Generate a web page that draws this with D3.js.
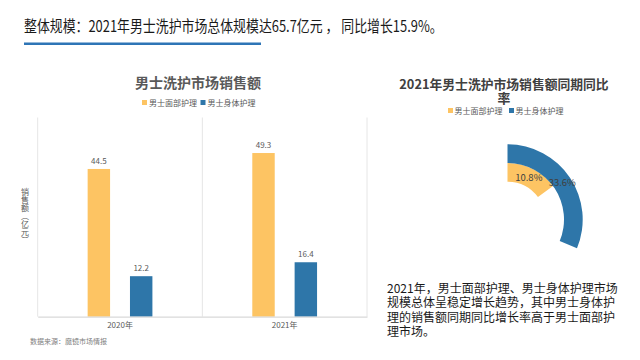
<!DOCTYPE html>
<html>
<head>
<meta charset="utf-8">
<script src="https://cdn.jsdelivr.net/npm/d3@7"></script>
<style>
  html, body { margin: 0; padding: 0; background: #ffffff; }
  svg { display: block; font-family: "Noto Sans CJK SC", "Noto Sans", sans-serif; }
</style>
</head>
<body>
<svg id="chart" width="640" height="360"></svg>
<script>
// ---------- data ----------
const headline = "整体规模：2021年男士洗护市场总体规模达65.7亿元 ， 同比增长15.9%。";
const barTitle = "男士洗护市场销售额";
const categories = ["2020年", "2021年"];
const seriesNames = ["男士面部护理", "男士身体护理"];
const faceValues = [44.5, 49.3];
const bodyValues = [12.2, 16.4];
const yAxisTitle = "销售额（亿元）";
const sourceNote = "数据来源：魔镜市场情报";
const ringTitleLines = ["2021年男士洗护市场销售额同期同比", "率"];
const ringValues = [10.8, 33.6]; // %, same order as seriesNames
const paragraphLines = [
  "2021年，男士面部护理、男士身体护理市场",
  "规模总体呈稳定增长趋势，其中男士身体护",
  "理的销售额同期同比增长率高于男士面部护",
  "理市场。"
];

// ---------- style ----------
const colors = ["#fdc463", "#2e76a9"];
const svg = d3.select("#chart");

// headline (horizontally condensed like the reference)
const hl = svg.append("text").attr("x", 0).attr("y", 0)
  .attr("font-size", 15.5).attr("fill", "#1a1a1a").text(headline);
const hlW = hl.node().getComputedTextLength();
hl.attr("transform", `translate(24,32) scale(${419 / hlW},1)`);
svg.append("rect").attr("x", 24).attr("y", 42.5).attr("width", 237).attr("height", 2.5)
  .attr("fill", "#2e75b6");

// ---------- bar chart ----------
const plotLeft = 37.7, plotRight = 367, plotTop = 117.5, plotBottom = 316.7;
const x0 = d3.scaleBand().domain(categories).range([plotLeft, plotRight]).padding(0);
const x1 = d3.scaleBand().domain(seriesNames).range([0, x0.bandwidth()])
  .paddingInner(0.47).paddingOuter(1.18);
const y = d3.scaleLinear().domain([0, 60]).range([plotBottom, plotTop]);

svg.append("text").attr("x", 198).attr("y", 88).attr("text-anchor", "middle")
  .attr("font-size", 14).attr("font-weight", "bold").attr("fill", "#595959").text(barTitle);

// legend (bar)
const legLX = [142, 200.5];
seriesNames.forEach((n, i) => {
  svg.append("rect").attr("x", legLX[i]).attr("y", 100).attr("width", 5).attr("height", 5).attr("fill", colors[i]);
  svg.append("text").attr("x", legLX[i] + 7).attr("y", 106).attr("font-size", 8)
    .attr("fill", "#595959").text(n);
});

// vertical separators
const sepXs = categories.map(c => x0(c)).concat([plotRight]);
svg.append("g").selectAll("line").data(sepXs).join("line")
  .attr("x1", d => d).attr("x2", d => d).attr("y1", plotTop).attr("y2", plotBottom)
  .attr("stroke", "#e6e6e6").attr("stroke-width", 1);

// bars
const barData = [];
categories.forEach((c, ci) => {
  barData.push({ cat: c, s: seriesNames[0], v: faceValues[ci], color: colors[0] });
  barData.push({ cat: c, s: seriesNames[1], v: bodyValues[ci], color: colors[1] });
});
svg.append("g").selectAll("rect").data(barData).join("rect")
  .attr("x", d => x0(d.cat) + x1(d.s))
  .attr("y", d => y(d.v))
  .attr("width", x1.bandwidth())
  .attr("height", d => y(0) - y(d.v))
  .attr("fill", d => d.color);
svg.append("g").selectAll("text").data(barData).join("text")
  .attr("x", d => x0(d.cat) + x1(d.s) + x1.bandwidth() / 2)
  .attr("y", d => y(d.v) - 5)
  .attr("text-anchor", "middle").attr("font-size", 8).attr("fill", "#595959")
  .text(d => d.v.toFixed(1));

// x axis
const xAxis = svg.append("g").attr("transform", `translate(0,${plotBottom})`)
  .call(d3.axisBottom(x0).tickSize(0).tickPadding(6));
xAxis.select(".domain").attr("stroke", "#d9d9d9").attr("stroke-width", 1.2);
xAxis.selectAll("text").attr("font-size", 8).attr("fill", "#595959")
  .attr("font-family", "'Noto Sans CJK SC', sans-serif");

// y axis title (vertical writing mode, upright characters)
svg.append("text").attr("x", 25).attr("y", 216).attr("text-anchor", "middle")
  .style("writing-mode", "vertical-rl")
  .attr("font-size", 8).attr("fill", "#595959")
  .text(yAxisTitle);

svg.append("text").attr("x", 30).attr("y", 344).attr("font-size", 7).attr("fill", "#808080")
  .text(sourceNote);

// ---------- ring chart ----------
const cx = 507.5, cy = 219.5;
const rt = svg.append("text").attr("text-anchor", "middle")
  .attr("font-size", 12.8).attr("font-weight", "bold").attr("fill", "#404040");
ringTitleLines.forEach((t, i) => {
  rt.append("tspan").attr("x", 504).attr("y", 88.5 + i * 14.5).text(t);
});
const legRX = [448, 509];
seriesNames.forEach((n, i) => {
  svg.append("rect").attr("x", legRX[i]).attr("y", 108).attr("width", 5).attr("height", 5).attr("fill", colors[i]);
  svg.append("text").attr("x", legRX[i] + 6.5).attr("y", 114).attr("font-size", 8)
    .attr("fill", "#595959").text(n);
});

const r = d3.scaleBand().domain(seriesNames).range([37.8, 75.2]).padding(0);
const angle = d3.scaleLinear().domain([-10, 40]).range([0, 129 * Math.PI / 180]);
const arc = d3.arc()
  .innerRadius(d => r(d.s))
  .outerRadius(d => r(d.s) + r.bandwidth())
  .startAngle(0)
  .endAngle(d => angle(d.v));
const ringData = seriesNames.map((s, i) => ({ s, v: ringValues[i], color: colors[i] }));
const ring = svg.append("g").attr("transform", `translate(${cx},${cy})`);
ring.selectAll("path").data(ringData).join("path").attr("d", arc).attr("fill", d => d.color);
ring.selectAll("text").data(ringData).join("text")
  .attr("transform", d => `translate(${arc.centroid(d)})`)
  .attr("text-anchor", "middle").attr("dy", "0.35em")
  .attr("font-size", 9.5).attr("fill", "#404040")
  .text(d => d.v.toFixed(1) + "%");

// paragraph
const para = svg.append("text").attr("font-size", 12).attr("fill", "#1a1a1a");
paragraphLines.forEach((t, i) => {
  para.append("tspan").attr("x", 387).attr("y", 292.5 + i * 14.6).text(t);
});
</script>
</body>
</html>
